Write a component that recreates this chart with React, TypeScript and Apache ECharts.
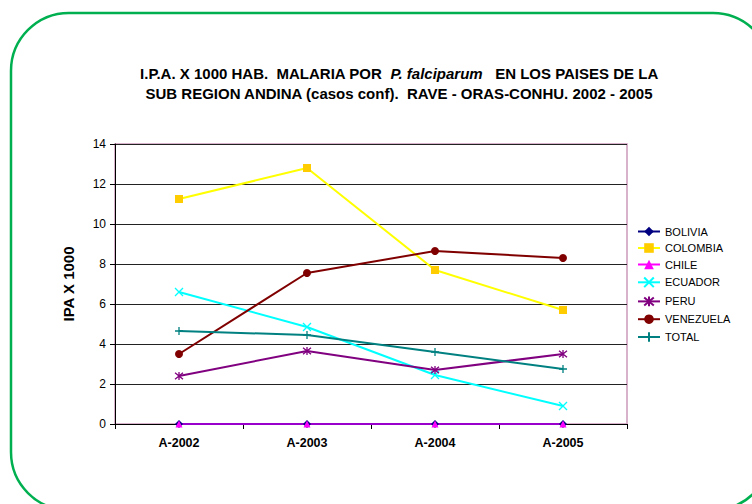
import React, { useEffect, useRef } from "react";
import * as echarts from "echarts";

const categories = ["A-2002", "A-2003", "A-2004", "A-2005"];
const bolivia = [0, 0, 0, 0];
const colombia = [11.25, 12.8, 7.7, 5.7];
const chile = [0, 0, 0, 0];
const ecuador = [6.6, 4.85, 2.45, 0.9];
const peru = [2.4, 3.65, 2.7, 3.5];
const venezuela = [3.5, 7.55, 8.65, 8.3];
const total = [4.65, 4.45, 3.6, 2.75];
const yTicks = { min: 0, max: 14, interval: 2 };

const FONT = "'Liberation Sans', Arial, sans-serif";

const X_PATH = "path://M0,0L10,10M10,0L0,10";
const STAR_PATH = "path://M0,0L10,10M10,0L0,10M5,-1L5,11";
const PLUS_PATH = "path://M5,0L5,10M0,5L10,5";

export default function App() {
  const ref = useRef<HTMLDivElement>(null);
  useEffect(() => {
    if (!ref.current) return;
    const chart = echarts.init(ref.current, null, { renderer: "svg" });
    const mk = (
      name: string,
      data: number[],
      color: string,
      symbol: string,
      size: number,
      markerColor?: string,
      strokeMarker?: boolean,
      lineOpacity?: number
    ) => ({
      name,
      type: "line",
      data,
      symbol,
      symbolSize: size,
      showSymbol: true,
      lineStyle: { color, width: 2, opacity: lineOpacity ?? 1 },
      itemStyle: strokeMarker
        ? { color: "none", borderColor: markerColor || color, borderWidth: 1.3 }
        : { color: markerColor || color, borderColor: markerColor || color, borderWidth: 0 },
    });
    chart.setOption({
      animation: false,
      backgroundColor: "#fff",
      textStyle: { fontFamily: FONT },
      title: {
        left: 394,
        top: 58,
        textAlign: "center",
        text:
          "{b|I.P.A. X 1000 HAB.  MALARIA POR  }{i|P. falciparum}{b|   EN LOS PAISES DE LA}\n{b|SUB REGION ANDINA (casos conf).  RAVE - ORAS-CONHU. 2002 - 2005}",
        textStyle: {
          rich: {
            b: { fontFamily: FONT, fontSize: 15, fontWeight: "bold", color: "#000", lineHeight: 20 },
            i: { fontFamily: FONT, fontSize: 15, fontWeight: "bold", fontStyle: "italic", color: "#000", lineHeight: 20 },
          },
        },
      },
      grid: {
        left: 115,
        right: 125,
        top: 144,
        bottom: 80,
        show: true,
        borderColor: "#cc99bb",
        borderWidth: 1.5,
        containLabel: false,
      },
      legend: {
        orient: "vertical",
        left: 637,
        top: 225.5,
        padding: 0,
        itemGap: 4.5,
        itemWidth: 22,
        itemHeight: 12,
        textStyle: { fontFamily: FONT, fontSize: 11, lineHeight: 12, color: "#000" },
        data: [
          "BOLIVIA",
          "COLOMBIA",
          { name: "CHILE", lineStyle: { opacity: 1 } },
          "ECUADOR",
          "PERU",
          "VENEZUELA",
          "TOTAL",
        ],
      },
      xAxis: {
        type: "category",
        data: categories,
        boundaryGap: true,
        axisLine: { lineStyle: { color: "#000", width: 1 } },
        axisTick: { show: true, alignWithLabel: false, length: 5, lineStyle: { color: "#000" } },
        axisLabel: { fontFamily: FONT, fontSize: 12.5, fontWeight: "bold", color: "#000", margin: 12.5 },
        splitLine: { show: false },
      },
      yAxis: {
        type: "value",
        min: yTicks.min,
        max: yTicks.max,
        interval: yTicks.interval,
        name: "IPA X 1000",
        nameLocation: "middle",
        nameGap: 39,
        nameTextStyle: { fontFamily: FONT, fontSize: 15, fontWeight: "bold", color: "#000" },
        axisLine: { show: true, lineStyle: { color: "#000", width: 1 } },
        axisTick: { show: true, length: 5, lineStyle: { color: "#000" } },
        axisLabel: { fontFamily: FONT, fontSize: 12, color: "#000", margin: 9 },
        splitLine: { show: true, lineStyle: { color: "#222", width: 1 } },
      },
      series: [
        mk("BOLIVIA", bolivia, "#000080", "diamond", 8),
        mk("COLOMBIA", colombia, "#ffff00", "rect", 8, "#ffcc00"),
        mk("CHILE", chile, "#ff00ff", "triangle", 7, "#ff00ff", false, 0.6),
        mk("ECUADOR", ecuador, "#00ffff", X_PATH, 8, "#00ffff", true),
        mk("PERU", peru, "#800080", STAR_PATH, 8, "#800080", true),
        mk("VENEZUELA", venezuela, "#800000", "circle", 8),
        mk("TOTAL", total, "#008080", PLUS_PATH, 8, "#008080", true),
      ],
      graphic: [
        {
          type: "rect",
          shape: { x: 11, y: 13, width: 760, height: 497, r: 58 },
          style: { fill: "none", stroke: "#00b050", lineWidth: 2.5 },
          silent: true,
          z: 100,
        },
      ],
    });
    return () => chart.dispose();
  }, []);
  return (
    <div
      ref={ref}
      style={{ position: "fixed", left: 0, top: 0, width: 752, height: 504, background: "#fff" }}
    />
  );
}
